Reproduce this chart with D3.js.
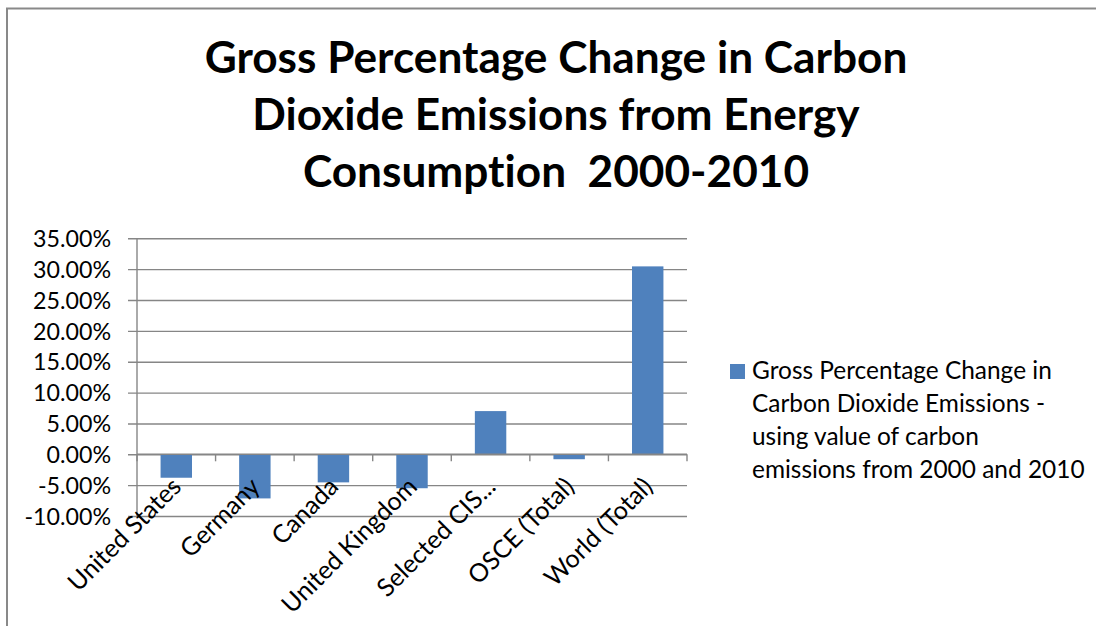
<!DOCTYPE html>
<html><head><meta charset="utf-8">
<script src="https://cdn.jsdelivr.net/npm/d3@7"></script>
<style>html,body{margin:0;padding:0;background:#fff;} svg{display:block;} text{font-variant-ligatures:none;font-feature-settings:"liga" 0;}</style>
</head><body>
<script>
const categories = ["United States","Germany","Canada","United Kingdom","Selected CIS...","OSCE (Total)","World (Total)"];
const values = [-3.8, -7.15, -4.55, -5.5, 7.0, -0.8, 30.45];
const yTicks = [-10, -5, 0, 5, 10, 15, 20, 25, 30, 35];
const titleLines = ["Gross Percentage Change in Carbon", "Dioxide Emissions from Energy", "Consumption  2000-2010"];
const legendLines = ["Gross Percentage Change in", "Carbon Dioxide Emissions -", "using value of carbon", "emissions from 2000 and 2010"];

const W = 1096, H = 626;
const FONT = "Lato, 'Open Sans', sans-serif";
const svg = d3.select("body").append("svg").attr("width", W).attr("height", H);
svg.append("rect").attr("x",0).attr("y",0).attr("width",W).attr("height",H).attr("fill","#fff");
// chart border
svg.append("path").attr("d", `M7,${H} V8.5 H${W}`).attr("fill","none").attr("stroke","#898989").attr("stroke-width",2);

function fit(sel, target) {
  const w = sel.node().getComputedTextLength();
  const fs = parseFloat(sel.attr("font-size"));
  return fs * target / w;
}

// title
const t0 = svg.append("text").attr("font-family",FONT).attr("font-weight","bold").attr("font-size",40).text(titleLines[0]);
const titleSize = fit(t0, 703);
t0.remove();
svg.append("g").selectAll("text").data(titleLines).join("text")
  .attr("x", 556).attr("y", (d,i) => 73 + i*57)
  .attr("text-anchor","middle").attr("font-family",FONT).attr("font-weight","bold")
  .attr("font-size", titleSize).attr("fill","#000").style("white-space","pre").text(d => d);

const fmt = d => d.toFixed(2) + "%";
const m0 = svg.append("text").attr("font-family",FONT).attr("font-size",20).text(fmt(35));
const labSize = fit(m0, 78);
m0.remove();
const m1 = svg.append("text").attr("font-family",FONT).attr("font-size",20).text(categories[0]);
const xLabSize = fit(m1, 148);
m1.remove();

const x0 = 137, x1 = 687, yTop = 238.3, yBot = 516;
const x = d3.scaleBand().domain(categories).range([x0, x1]).padding(0);
const y = d3.scaleLinear().domain([-10, 35]).range([yBot, yTop]);
const GRID = "#868686";

// gridlines + y ticks
const yAxis = d3.axisLeft(y).tickValues(yTicks).tickSize(9).tickFormat(fmt);
const gy = svg.append("g").attr("transform", `translate(${x0},0)`).call(yAxis);
gy.select(".domain").attr("stroke", GRID).attr("stroke-width",1.4).attr("d", `M0,${yTop}V${yBot}`);
gy.selectAll(".tick line").attr("stroke", GRID).attr("stroke-width",1.4).attr("x1",-9).attr("x2", x1 - x0);
gy.selectAll(".tick text").attr("font-family",FONT).attr("font-size",labSize).attr("fill","#000").attr("x",-26).attr("dy","0.35em");

// bars
const bw = x.bandwidth() * 0.4;
svg.append("g").selectAll("rect").data(values).join("rect")
  .attr("x", (d,i) => x(categories[i]) + (x.bandwidth() - bw)/2)
  .attr("width", bw)
  .attr("y", d => y(Math.max(0,d)))
  .attr("height", d => Math.abs(y(d) - y(0)))
  .attr("fill", "#4F81BD");

// x axis at zero
const y0 = y(0);
const xa = svg.append("g").attr("transform", `translate(0,${y0})`);
xa.append("line").attr("x1",x0).attr("x2",x1).attr("stroke",GRID).attr("stroke-width",1.4);
const bounds = categories.map(c => x(c)).concat([x1]);
xa.selectAll("line.tk").data(bounds).join("line").attr("class","tk")
  .attr("x1", d=>d).attr("x2", d=>d).attr("y1",0).attr("y2",7).attr("stroke",GRID).attr("stroke-width",1.4);
xa.selectAll("text").data(categories).join("text")
  .attr("transform", d => `translate(${x(d) + x.bandwidth()/2 + 6.5},${34}) rotate(-45)`)
  .attr("text-anchor","end")
  .attr("font-family",FONT).attr("font-size",xLabSize).attr("fill","#000").text(d => d);

// legend
const l0 = svg.append("text").attr("font-family",FONT).attr("font-size",20).text(legendLines[0]);
const legSize = fit(l0, 300);
l0.remove();
svg.append("rect").attr("x",730).attr("y",364).attr("width",15).attr("height",15).attr("fill","#4F81BD");
svg.append("g").selectAll("text").data(legendLines).join("text")
  .attr("x", 752).attr("y", (d,i) => 378.5 + i*33)
  .attr("font-family",FONT).attr("font-size",legSize).attr("fill","#000").text(d => d);
</script>
</body></html>
